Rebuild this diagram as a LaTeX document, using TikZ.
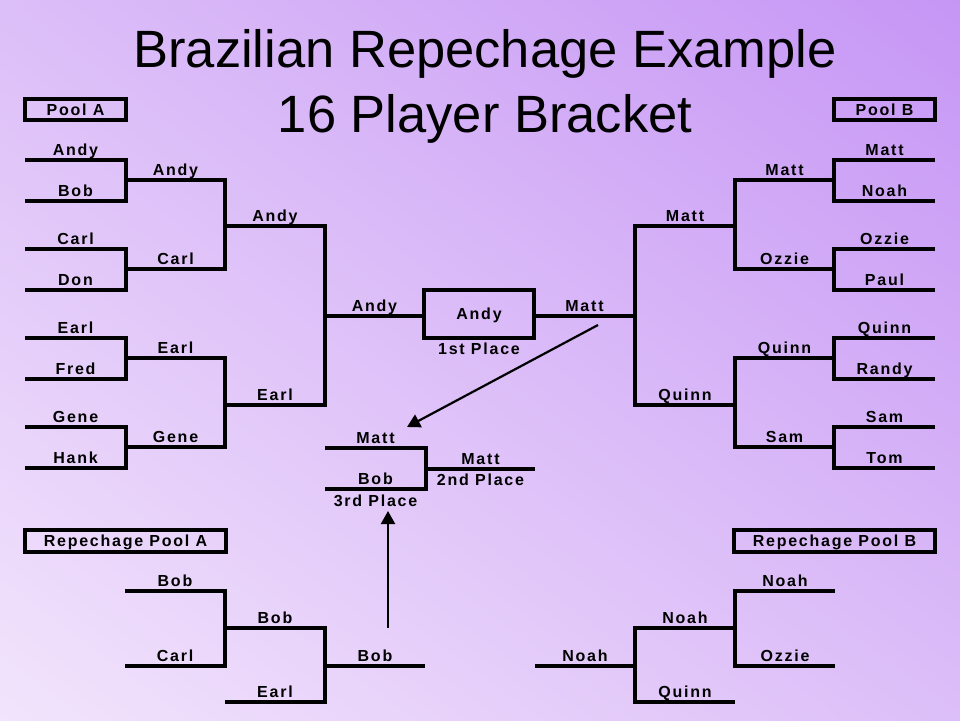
\documentclass[tikz,border=0pt]{standalone}
\usepackage{fontspec}
\setmainfont{Liberation Sans}
\newfontfamily\lblfont[LetterSpace=11]{Liberation Sans}
\usetikzlibrary{arrows.meta,shadings}

\definecolor{bgtopright}{RGB}{198,150,245}
\definecolor{bgmid}{RGB}{220,190,248}
\definecolor{bgbotleft}{RGB}{242,228,252}

\begin{document}
\begin{tikzpicture}[x=1pt,y=-1pt,
	bline/.style={line width=3.5pt},
	box/.style={draw,line width=3.5pt,inner sep=0pt,text height=11pt,text depth=0pt,font=\lblfont\bfseries\fontsize{16}{19}\selectfont},
	player/.style={anchor=base,inner sep=0pt,font=\lblfont\bfseries\fontsize{16}{19}\selectfont},
	arrow/.style={-{Triangle[length=13pt,width=14pt]},line width=2.2pt}]

\shade[upper right=bgtopright,upper left=bgmid,lower right=bgmid,lower left=bgbotleft] (0,0) rectangle (960,720);
\useasboundingbox (0,0) rectangle (960,720);

\node[anchor=base,inner sep=0pt,font=\fontsize{52.5}{60}\selectfont] (title) at (485,67) {Brazilian Repechage Example};
\node[anchor=base,inner sep=0pt,font=\fontsize{52.5}{60}\selectfont] (subtitle) at (485,132) {16 Player Bracket};

\def\fork at (#1,#2,#3,#4) {
	\draw[bline] (#1,#2) -- (#4,#2) -- (#4,#3) -- (#1,#3);
}

% pool A
\node[box,minimum width=101pt,minimum height=21pt] (poola) at (75.5,109.5) {Pool A};
\fork at (25,160,201,126)
\fork at (25,249,290,126)
\fork at (25,338,379,126)
\fork at (25,427,468,126)
\fork at (126,180,269,225)
\fork at (126,358,447,225)
\fork at (225,226,405,325)
\draw[bline] (325,316) -- (424,316);

\node[player] (la1) at (75.5,155.5) {Andy};
\node[player] (la2) at (75.5,196.5) {Bob};
\node[player] (la3) at (75.5,244.5) {Carl};
\node[player] (la4) at (75.5,285.5) {Don};
\node[player] (la5) at (75.5,333.5) {Earl};
\node[player] (la6) at (75.5,374.5) {Fred};
\node[player] (la7) at (75.5,422.5) {Gene};
\node[player] (la8) at (75.5,463.5) {Hank};
\node[player] (lb1) at (175.5,175.5) {Andy};
\node[player] (lb2) at (175.5,264.5) {Carl};
\node[player] (lb3) at (175.5,353.5) {Earl};
\node[player] (lb4) at (175.5,442.5) {Gene};
\node[player] (lc1) at (275,221.5) {Andy};
\node[player] (lc2) at (275,400.5) {Earl};
\node[player] (ld1) at (374.5,311.5) {Andy};

% final
\node[box,minimum width=110pt,minimum height=48pt] (first) at (479,314) {Andy};
\node[player] (firstlbl) at (479,354) {1st Place};

% pool B
\node[box,minimum width=101pt,minimum height=21pt] (poolb) at (884.5,109.5) {Pool B};
\fork at (935,160,201,834)
\fork at (935,249,290,834)
\fork at (935,338,379,834)
\fork at (935,427,468,834)
\fork at (834,180,269,735)
\fork at (834,358,447,735)
\fork at (735,226,405,635)
\draw[bline] (534,316) -- (635,316);

\node[player] (ra1) at (884.5,155.5) {Matt};
\node[player] (ra2) at (884.5,196.5) {Noah};
\node[player] (ra3) at (884.5,244.5) {Ozzie};
\node[player] (ra4) at (884.5,285.5) {Paul};
\node[player] (ra5) at (884.5,333.5) {Quinn};
\node[player] (ra6) at (884.5,374.5) {Randy};
\node[player] (ra7) at (884.5,422.5) {Sam};
\node[player] (ra8) at (884.5,463.5) {Tom};
\node[player] (rb1) at (784.5,175.5) {Matt};
\node[player] (rb2) at (784.5,264.5) {Ozzie};
\node[player] (rb3) at (784.5,353.5) {Quinn};
\node[player] (rb4) at (784.5,442.5) {Sam};
\node[player] (rc1) at (685,221.5) {Matt};
\node[player] (rc2) at (685,400.5) {Quinn};
\node[player] (rd1) at (584.5,311.5) {Matt};

% 3rd and 2nd place
\fork at (325,448,489,426)
\draw[bline] (426,469) -- (535,469);
\node[player] (tm) at (375.5,443.5) {Matt};
\node[player] (tb) at (375.5,484.5) {Bob};
\node[player] (third) at (375.5,506) {3rd Place};
\node[player] (sm) at (480.5,464.5) {Matt};
\node[player] (second) at (480.5,485.5) {2nd Place};

% repechage pool A
\node[box,minimum width=201pt,minimum height=22pt] (repa) at (125.5,541) {Repechage Pool A};
\fork at (125,591,666,225)
\fork at (225,628,702,325)
\draw[bline] (325,666) -- (425,666);
\node[player] (qa1) at (175,586.5) {Bob};
\node[player] (qa2) at (175,661.5) {Carl};
\node[player] (qa3) at (275,623.5) {Bob};
\node[player] (qa4) at (275,697.5) {Earl};
\node[player] (qa5) at (375,661.5) {Bob};

% repechage pool B
\node[box,minimum width=201pt,minimum height=22pt] (repb) at (834.5,541) {Repechage Pool B};
\fork at (835,591,666,735)
\fork at (735,628,702,635)
\draw[bline] (635,666) -- (535,666);
\node[player] (qb1) at (785,586.5) {Noah};
\node[player] (qb2) at (785,661.5) {Ozzie};
\node[player] (qb3) at (685,623.5) {Noah};
\node[player] (qb4) at (685,697.5) {Quinn};
\node[player] (qb5) at (585,661.5) {Noah};

\coordinate (mattout) at (598,325);
\coordinate (mattin) at (407,427);
\coordinate (bobout) at (388,628);
\coordinate (bobin) at (388,511);
\draw[arrow] (mattout) -- (mattin);
\draw[arrow] (bobout) -- (bobin);
\end{tikzpicture}
\end{document}
